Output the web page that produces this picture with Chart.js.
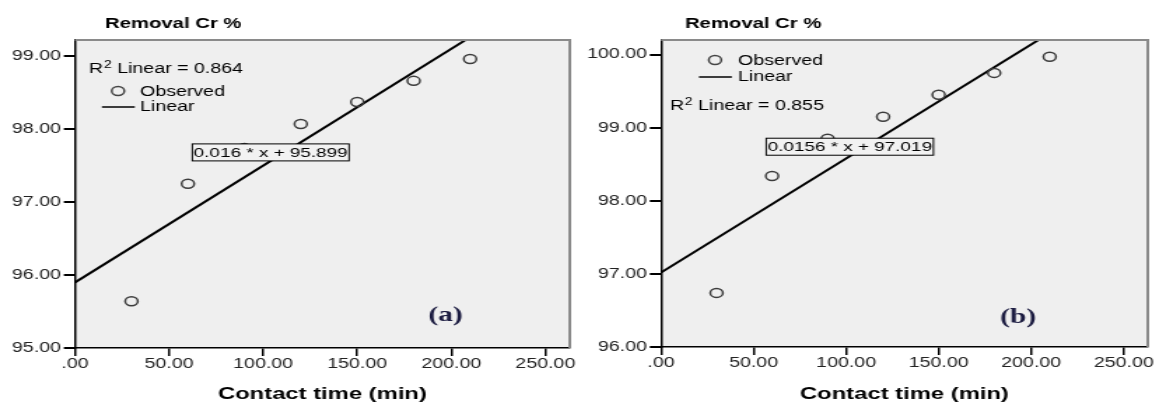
<!DOCTYPE html>
<html>
<head>
<meta charset="utf-8">
<script src="https://cdn.jsdelivr.net/npm/chart.js@4.4.1/dist/chart.umd.min.js"></script>
<style>
body { margin: 0; background: #fff; width: 1156px; height: 403px; overflow: hidden; position: relative; }
/* the SPSS picture is stretched sideways, so each panel is drawn narrow and widened */
.wrap { position: absolute; top: 0; width: 413px; height: 403px; transform: scaleX(1.4); transform-origin: 0 0; }
</style>
</head>
<body>
<div class="wrap" style="left:0"><canvas id="chartA" width="413" height="403"></canvas></div>
<div class="wrap" style="left:578px"><canvas id="chartB" width="413" height="403"></canvas></div>
<script>
const contactTime = [30, 60, 90, 120, 150, 180, 210]
const removalA = [95.64, 97.25, 97.74, 98.07, 98.37, 98.66, 98.96]
const removalB = [96.74, 98.34, 98.85, 99.15, 99.45, 99.75, 99.97]

// fit lines, ends of 0.016 * x + 95.899 and 0.0156 * x + 97.019
const fitX = [0, 263]
const fitA = [95.899, 100.107]
const fitB = [97.019, 101.122]

const xTicks = [0, 50, 100, 150, 200, 250]
const xTickLabels = ['.00', '50.00', '100.00', '150.00', '200.00', '250.00']
const yTicksA = [95, 96, 97, 98, 99]
const yTickLabelsA = ['95.00', '96.00', '97.00', '98.00', '99.00']
const yTicksB = [96, 97, 98, 99, 100]
const yTickLabelsB = ['96.00', '97.00', '98.00', '99.00', '100.00']

const sans = '"Liberation Sans", Arial, sans-serif'

const panelDecor = {
    id: 'panelDecor',
    beforeDraw(chart, args, o) {
        const { ctx, chartArea: a } = chart
        ctx.save()
        ctx.fillStyle = '#efefef'
        ctx.fillRect(a.left, a.top, a.right - a.left, a.bottom - a.top)
        ctx.restore()
    },
    afterDatasetsDraw(chart, args, o) {
        const { ctx, chartArea: a } = chart
        const xs = chart.scales.x, ys = chart.scales.y
        ctx.save()
        // grey frame top and right
        ctx.strokeStyle = '#8a8a8a'
        ctx.lineWidth = 2
        ctx.beginPath()
        ctx.moveTo(a.left, a.top)
        ctx.lineTo(a.right, a.top)
        ctx.lineTo(a.right, a.bottom)
        ctx.stroke()

        // title
        ctx.fillStyle = '#000'
        ctx.textBaseline = 'middle'
        ctx.textAlign = 'left'
        ctx.font = 'bold 14.5px ' + sans
        ctx.fillText('Removal Cr %', o.titleX, 24)

        // R2 text
        ctx.font = '14px ' + sans
        ctx.fillText('R', o.r2X, o.r2Y)
        let w = ctx.measureText('R').width
        ctx.font = '10px ' + sans
        ctx.fillText('2', o.r2X + w + 0.5, o.r2Y - 4)
        w += ctx.measureText('2').width + 0.5
        ctx.font = '14px ' + sans
        ctx.fillText(' Linear = ' + o.r2, o.r2X + w, o.r2Y)

        // legend
        ctx.strokeStyle = '#444'
        ctx.lineWidth = 1.5
        ctx.beginPath()
        ctx.arc(o.legX, o.obsY, 4.5, 0, Math.PI * 2)
        ctx.stroke()
        ctx.strokeStyle = '#000'
        ctx.lineWidth = 1.5
        ctx.beginPath()
        ctx.moveTo(o.legX - 11.5, o.linY)
        ctx.lineTo(o.legX + 12, o.linY)
        ctx.stroke()
        ctx.fillText('Observed', o.legTextX, o.obsY + 1)
        ctx.fillText('Linear', o.legTextX, o.linY)

        // equation box
        ctx.font = '13.5px ' + sans
        const tw = ctx.measureText(o.eq).width
        const bx = xs.getPixelForValue(o.eqAt[0]) - tw / 2 - 1
        const by = ys.getPixelForValue(o.eqAt[1]) - 8.5
        ctx.fillStyle = '#f2f2f2'
        ctx.fillRect(bx, by, tw + 2, 17)
        ctx.strokeStyle = '#000'
        ctx.lineWidth = 1
        ctx.strokeRect(bx, by, tw + 2, 17)
        ctx.fillStyle = '#000'
        ctx.fillText(o.eq, bx + 1, by + 9)

        // panel letter
        ctx.font = 'bold 21px "Liberation Serif", "Times New Roman", serif'
        ctx.fillStyle = '#1b1b40'
        ctx.textAlign = 'center'
        ctx.fillText(o.tag, xs.getPixelForValue(o.tagAt[0]), ys.getPixelForValue(o.tagAt[1]))
        ctx.restore()
    }
}

function makePanel(id, values, fit, yTicks, yLabels, yMin, yMax, p) {
    const config = {
        type: 'scatter',
        data: {
            datasets: [
                {
                    label: 'Observed',
                    data: contactTime.map((t, i) => ({ x: t, y: values[i] })),
                    pointStyle: 'circle',
                    pointRadius: 4.5,
                    pointBorderWidth: 1.5,
                    borderColor: '#3c3c3c',
                    backgroundColor: 'rgba(0,0,0,0)'
                },
                {
                    type: 'line',
                    label: 'Linear',
                    data: fitX.map((t, i) => ({ x: t, y: fit[i] })),
                    borderColor: '#000',
                    borderWidth: 2,
                    pointRadius: 0,
                    fill: false
                }
            ]
        },
        options: {
            responsive: false,
            animation: false,
            devicePixelRatio: 1,
            layout: { padding: { top: 40, right: p.padRight, left: 0, bottom: 0 } },
            plugins: {
                legend: { display: false },
                tooltip: { enabled: false },
                panelDecor: p
            },
            scales: {
                x: {
                    type: 'linear',
                    min: 0,
                    max: 263,
                    afterBuildTicks: s => { s.ticks = xTicks.map(v => ({ value: v })) },
                    afterFit: s => { s.height = p.xHeight },
                    ticks: {
                        callback: v => xTickLabels[xTicks.indexOf(v)],
                        font: { family: sans, size: 14 },
                        color: '#222',
                        padding: 0,
                        maxRotation: 0
                    },
                    grid: { drawOnChartArea: false, drawTicks: true, tickLength: 8, color: '#000', lineWidth: 1.5 },
                    border: { color: '#000', width: 1.5 }
                },
                y: {
                    type: 'linear',
                    min: yMin,
                    max: yMax,
                    afterBuildTicks: s => { s.ticks = yTicks.map(v => ({ value: v })) },
                    afterFit: s => { s.width = p.yWidth },
                    ticks: {
                        callback: v => yLabels[yTicks.indexOf(v)],
                        font: { family: sans, size: 14 },
                        color: '#222',
                        padding: 2
                    },
                    grid: { drawOnChartArea: false, drawTicks: true, tickLength: 8, color: '#000', lineWidth: 2 },
                    border: { color: '#000', width: 1.5 }
                }
            }
        },
        plugins: [panelDecor]
    }
    return new Chart(document.getElementById(id), config)
}

// x axis title, same for both panels
const xTitle = {
    id: 'xTitle',
    afterDraw(chart) {
        const { ctx, chartArea: a } = chart
        ctx.save()
        ctx.font = 'bold 17px ' + sans
        ctx.fillStyle = '#000'
        ctx.textAlign = 'center'
        ctx.textBaseline = 'middle'
        ctx.fillText('Contact time (min)', (a.left + a.right) / 2, 394)
        ctx.restore()
    }
}
Chart.register(xTitle)

makePanel('chartA', removalA, fitA, yTicksA, yTickLabelsA, 95, 99.22, {
    padRight: 1.6, yWidth: 53.6, xHeight: 55,
    titleX: 75, r2X: 63.6, r2Y: 69, r2: '0.864',
    legX: 84.3, obsY: 91, linY: 107, legTextX: 100,
    eq: '0.016 * x + 95.899', eqAt: [104, 97.68],
    tag: '(a)', tagAt: [197, 95.45]
})

makePanel('chartB', removalB, fitB, yTicksB, yTickLabelsB, 96, 100.2, {
    padRight: 3.7, yWidth: 59.3, xHeight: 56,
    titleX: 76.4, r2X: 65.7, r2Y: 106, r2: '0.855',
    legX: 97.9, obsY: 60, linY: 77, legTextX: 114.3,
    eq: '0.0156 * x + 97.019', eqAt: [102, 98.74],
    tag: '(b)', tagAt: [193, 96.4]
})
</script>
</body>
</html>
